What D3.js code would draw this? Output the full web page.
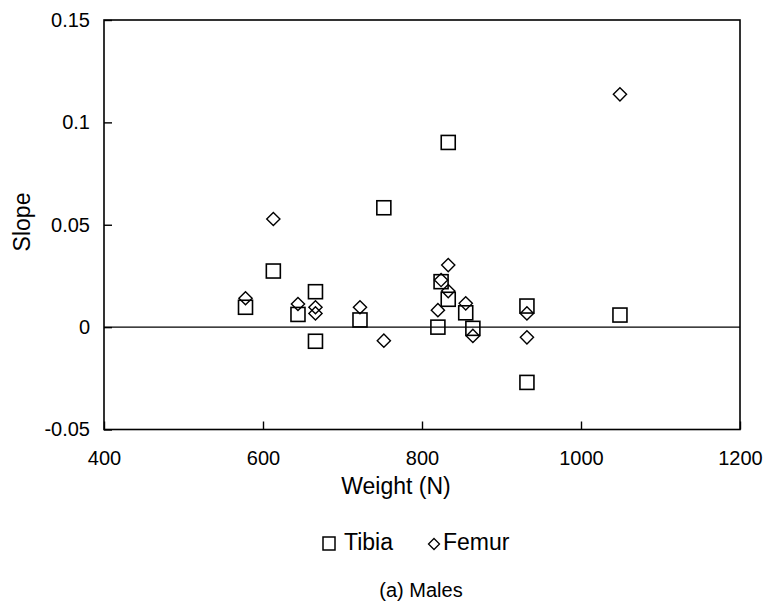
<!DOCTYPE html>
<html>
<head>
<meta charset="utf-8">
<script src="https://cdn.jsdelivr.net/npm/d3@7"></script>
<style>
  html, body { margin: 0; padding: 0; background: #fff; }
  svg { display: block; font-family: "Liberation Sans", Arial, sans-serif; }
</style>
</head>
<body>
<svg id="chart" width="767" height="616"></svg>
<script>
// Body weight of each male subject and the fitted slope for each bone
const weights = [578, 613, 644, 666, 666, 722, 752, 820, 824, 833, 833, 855, 864, 932, 932, 1049];
const tibiaSlope = [0.0097, 0.0274, 0.0062, 0.0173, -0.0069, 0.0035, 0.0583, 0.0000, 0.0222, 0.0902, 0.0136, 0.0070, -0.0006, 0.0103, -0.0270, 0.0059];
const femurSlope = [0.0141, 0.0528, 0.0113, 0.0097, 0.0067, 0.0097, -0.0066, 0.0083, 0.0230, 0.0303, 0.0176, 0.0116, -0.0043, 0.0067, -0.0050, 0.1137];

const xTicks = [400, 600, 800, 1000, 1200];
const yTicks = [-0.05, 0, 0.05, 0.1, 0.15];
const yTickLabels = ["-0.05", "0", "0.05", "0.1", "0.15"];
const seriesNames = ["Tibia", "Femur"];

const svg = d3.select("#chart");
const plotLeft = 104, plotRight = 740, plotTop = 20, plotBottom = 429.5;

const x = d3.scaleLinear().domain([400, 1200]).range([plotLeft, plotRight]);
const y = d3.scaleLinear().domain([-0.05, 0.15]).range([plotBottom, plotTop]);

// Frame around the plot
svg.append("rect")
  .attr("x", plotLeft).attr("y", plotTop)
  .attr("width", plotRight - plotLeft).attr("height", plotBottom - plotTop)
  .attr("fill", "none").attr("stroke", "#000").attr("stroke-width", 1.6);

// Inward tick marks on left and bottom edges
const yAxis = d3.axisLeft(y).tickValues(yTicks)
  .tickFormat((d, i) => yTickLabels[i]).tickSizeInner(-8).tickSizeOuter(0).tickPadding(14);
const gy = svg.append("g").attr("transform", `translate(${plotLeft},0)`).call(yAxis);
gy.select(".domain").remove();
gy.selectAll("line").attr("stroke", "#000").attr("stroke-width", 1.4);
gy.selectAll("text").attr("font-size", 20).attr("fill", "#000")
  .attr("font-family", "Liberation Sans, Arial, sans-serif");

const xAxis = d3.axisBottom(x).tickValues(xTicks).tickFormat(d3.format("d"))
  .tickSizeInner(-8).tickSizeOuter(0).tickPadding(21);
const gx = svg.append("g").attr("transform", `translate(0,${plotBottom})`).call(xAxis);
gx.select(".domain").remove();
gx.selectAll("line").attr("stroke", "#000").attr("stroke-width", 1.4);
gx.selectAll("text").attr("font-size", 20).attr("fill", "#000")
  .attr("font-family", "Liberation Sans, Arial, sans-serif");

// Zero reference line
svg.append("line")
  .attr("x1", plotLeft).attr("x2", plotRight)
  .attr("y1", y(0)).attr("y2", y(0))
  .attr("stroke", "#000").attr("stroke-width", 1.3);

// Tibia: open squares
const sq = 14;
svg.append("g").selectAll("rect")
  .data(weights.map((w, i) => ({ w, v: tibiaSlope[i] })))
  .join("rect")
  .attr("x", d => x(d.w) - sq / 2)
  .attr("y", d => y(d.v) - sq / 2)
  .attr("width", sq).attr("height", sq)
  .attr("fill", "none").attr("stroke", "#000").attr("stroke-width", 1.6);

// Femur: open diamonds
const dr = 6.6;
const diamond = (cx, cy, r) => `M${cx},${cy - r}L${cx + r},${cy}L${cx},${cy + r}L${cx - r},${cy}Z`;
svg.append("g").selectAll("path")
  .data(weights.map((w, i) => ({ w, v: femurSlope[i] })))
  .join("path")
  .attr("d", d => diamond(x(d.w), y(d.v), dr))
  .attr("fill", "none").attr("stroke", "#000").attr("stroke-width", 1.4);

// Axis titles
svg.append("text")
  .attr("x", 396).attr("y", 494)
  .attr("text-anchor", "middle").attr("font-size", 23)
  .text("Weight (N)");

svg.append("text")
  .attr("transform", "translate(30,222) rotate(-90)")
  .attr("text-anchor", "middle").attr("font-size", 23)
  .text("Slope");

// Legend
const lg = svg.append("g");
lg.append("rect")
  .attr("x", 323).attr("y", 537).attr("width", 12).attr("height", 13)
  .attr("fill", "none").attr("stroke", "#000").attr("stroke-width", 1.5);
lg.append("text").attr("x", 344).attr("y", 550).attr("font-size", 23).text(seriesNames[0]);
lg.append("path")
  .attr("d", diamond(434, 544, 5.5))
  .attr("fill", "none").attr("stroke", "#000").attr("stroke-width", 1.3);
lg.append("text").attr("x", 443).attr("y", 550).attr("font-size", 23).text(seriesNames[1]);

// Panel caption
svg.append("text")
  .attr("x", 421).attr("y", 597)
  .attr("text-anchor", "middle").attr("font-size", 20)
  .text("(a) Males");
</script>
</body>
</html>
